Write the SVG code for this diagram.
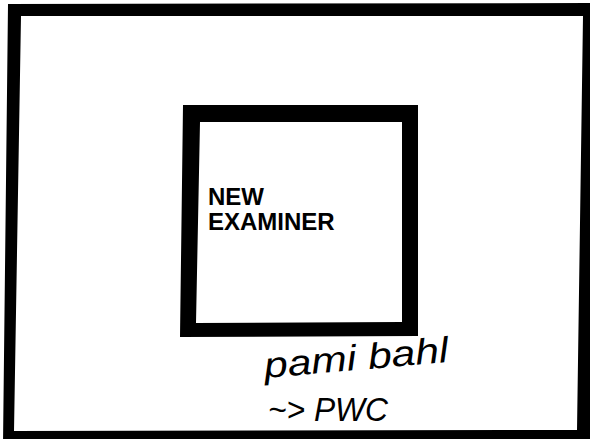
<svg xmlns="http://www.w3.org/2000/svg" width="590" height="439" viewBox="0 0 590 439">
<style>
.frame{fill:#000;fill-rule:evenodd;stroke:none}
.label{font-family:"Liberation Sans",Arial,sans-serif;font-weight:bold;font-size:24px;fill:#000}
.hand{font-family:"Liberation Sans",Arial,sans-serif;font-style:italic;fill:#000}
</style>
<rect width="590" height="439" fill="#fff"/>
<g id="outer-frame">
<path class="frame" d="M8 4 L596 3 L590 445 L3 445 Z M21 16 L583 16 L577 430 L14 431 Z"/>
</g>
<g id="new-examiner">
<path class="frame" d="M183 105 L418 105 L418 336 L180 337 Z M200 122 L402 122 L402 322 L196 323 Z"/>
<text class="label" x="208" y="205">NEW</text>
<text class="label" x="208" y="230">EXAMINER</text>
</g>
<g id="note">
<text class="hand" x="265" y="378" font-size="36" textLength="185" lengthAdjust="spacingAndGlyphs" transform="rotate(-5 265 378)">pami bahl</text>
<text class="hand" x="268" y="421" font-size="33" textLength="120" lengthAdjust="spacingAndGlyphs">~&gt; PWC</text>
</g>
</svg>
